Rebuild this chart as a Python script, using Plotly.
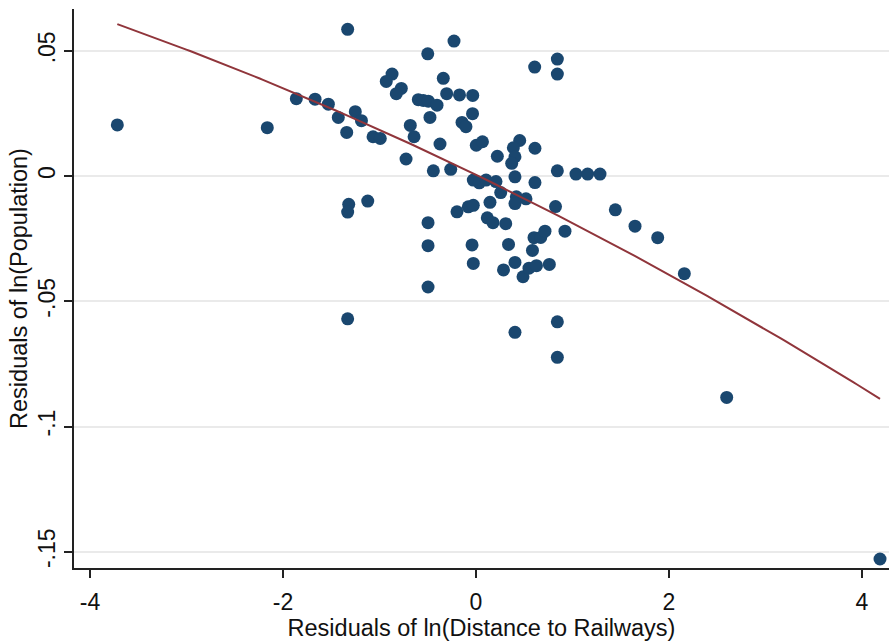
import numpy as np
import plotly.graph_objects as go

# Residuals of ln(Distance to Railways)
x_resid = [
    -3.717, -2.163, -1.862, -1.668, -1.530, -1.330, -1.251, -1.427, -1.187, -1.340,
    -1.067, -0.992, -0.870, -0.930, -0.774, -0.826, -0.681, -0.642, -0.725, -0.598,
    -0.546, -0.494, -0.404, -0.500, -0.228, -0.339, -0.304, -0.171, -0.034, -0.477,
    -0.036, -0.145, -0.104, -0.373, 0.003, 0.067, 0.221, 0.453, 0.387, 0.404,
    0.370, 0.611, 0.608, 0.843, 0.843, -0.442, -0.262, -0.028, 0.034, 0.104,
    0.207, 0.256, 0.404, 0.611, 0.843, 1.036, 1.157, 1.285, 0.145, 0.418,
    0.518, 0.404, 0.824, 1.444, 1.648, 1.883, 2.159, 2.598, 4.187, -1.319,
    -1.330, -1.122, -0.197, -0.080, -0.028, -0.497, -0.497, -0.497, -0.041, -0.028,
    0.117, 0.176, 0.308, 0.337, 0.285, 0.404, 0.487, 0.549, 0.627, 0.760,
    0.585, 0.601, 0.671, 0.715, 0.922, 0.404, 0.843, 0.843, -1.330,
]
# Residuals of ln(Population)
y_resid = [
    0.0204, 0.0193, 0.0309, 0.0307, 0.0287, 0.0586, 0.0257, 0.0234, 0.0221, 0.0174,
    0.0157, 0.0150, 0.0407, 0.0378, 0.0350, 0.0329, 0.0202, 0.0157, 0.0068, 0.0305,
    0.0302, 0.0299, 0.0283, 0.0488, 0.0539, 0.0390, 0.0329, 0.0324, 0.0322, 0.0234,
    0.0249, 0.0214, 0.0197, 0.0128, 0.0123, 0.0137, 0.0079, 0.0142, 0.0113, 0.0077,
    0.0051, 0.0111, 0.0435, 0.0467, 0.0407, 0.0021, 0.0027, -0.0016, -0.0027, -0.0016,
    -0.0022, -0.0066, -0.0003, -0.0026, 0.0021, 0.0008, 0.0008, 0.0008, -0.0105, -0.0083,
    -0.0091, -0.0110, -0.0122, -0.0135, -0.0200, -0.0246, -0.0390, -0.0884, -0.1529, -0.0113,
    -0.0144, -0.0100, -0.0143, -0.0123, -0.0117, -0.0186, -0.0278, -0.0443, -0.0275, -0.0349,
    -0.0167, -0.0186, -0.0190, -0.0273, -0.0375, -0.0345, -0.0402, -0.0368, -0.0358, -0.0353,
    -0.0297, -0.0246, -0.0245, -0.0220, -0.0220, -0.0624, -0.0582, -0.0724, -0.0570,
]

# Fitted quadratic line as drawn in the reference: y = c0 + c1*x + c2*x^2
fit_coef = [0.000507, -0.01862, -0.000655]

x_tick_vals = [-4, -2, 0, 2, 4]
x_tick_text = ["-4", "-2", "0", "2", "4"]
y_tick_vals = [0.05, 0, -0.05, -0.1, -0.15]
y_tick_text = [".05", "0", "-.05", "-.1", "-.15"]

x_title = "Residuals of ln(Distance to Railways)"
y_title = "Residuals of ln(Population)"

xa = np.array(x_resid)
x_fit = np.linspace(xa.min(), xa.max(), 200)
y_fit = fit_coef[0] + fit_coef[1] * x_fit + fit_coef[2] * x_fit ** 2

font_family = "Liberation Sans, Arial, sans-serif"

fig = go.Figure()
fig.add_trace(go.Scatter(
    x=x_resid, y=y_resid, mode="markers",
    marker=dict(size=13, color="#1a476f", line=dict(width=0)),
    showlegend=False, hoverinfo="x+y",
))
fig.add_trace(go.Scatter(
    x=x_fit, y=y_fit, mode="lines",
    line=dict(color="#90353b", width=2),
    showlegend=False,
))

fig.update_layout(
    width=889, height=643,
    margin=dict(l=74, r=0, t=9, b=75),
    paper_bgcolor="white", plot_bgcolor="white",
    font=dict(family=font_family, size=23, color="#111111"),
    xaxis=dict(
        range=[-4.166, 4.28], tickvals=x_tick_vals, ticktext=x_tick_text,
        showgrid=False, zeroline=False, showline=True, linecolor="#222222", linewidth=1.5,
        ticks="outside", ticklen=8, tickwidth=1.5, tickcolor="#222222",
        ticklabelstandoff=5,
        title=dict(text=x_title, font=dict(size=23.5), standoff=0),
        tickfont=dict(size=23),
    ),
    yaxis=dict(
        range=[-0.1565, 0.0667], tickvals=y_tick_vals, ticktext=y_tick_text,
        showgrid=True, gridcolor="#eaeaea", gridwidth=1.5, zeroline=False,
        showline=True, linecolor="#222222", linewidth=1.5,
        ticks="outside", ticklen=8, tickwidth=1.5, tickcolor="#222222",
        tickangle=-90, tickfont=dict(size=23),
        title=dict(text=y_title, font=dict(size=23.5), standoff=0),
    ),
)

fig.write_html("out.html", config={"displayModeBar": False},
               post_script="document.body.style.margin='0';")
